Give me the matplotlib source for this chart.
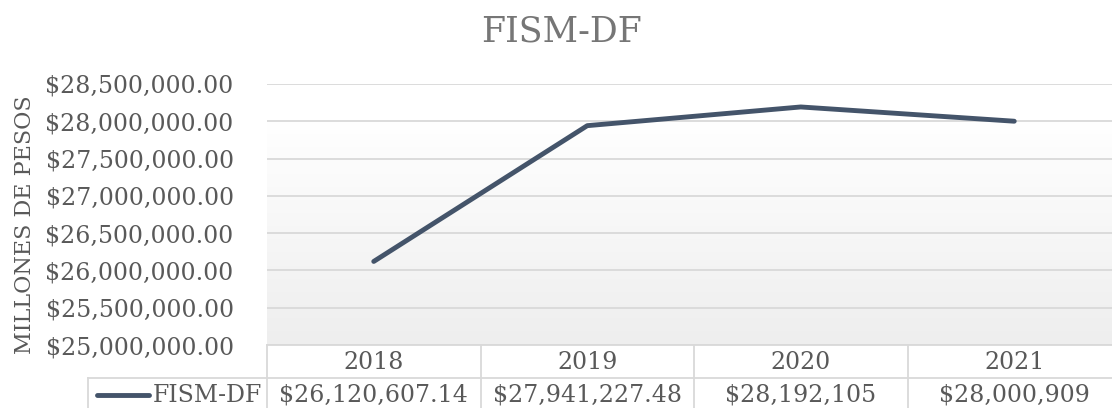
"""
FISM-DF line chart with a data table underneath (Excel style).
"""

import numpy as np
import matplotlib
matplotlib.use("Agg")
import matplotlib.pyplot as plt
from matplotlib.lines import Line2D
from matplotlib.colors import LinearSegmentedColormap
from matplotlib.ticker import FuncFormatter

# ---------------------------------------------------------
# Data
# ---------------------------------------------------------
years = ["2018", "2019", "2020", "2021"]
values = [26120607.14, 27941227.48, 28192105, 28000909]
value_labels = ["$26,120,607.14", "$27,941,227.48", "$28,192,105", "$28,000,909"]
series_name = "FISM-DF"
y_ticks = [25000000, 25500000, 26000000, 26500000, 27000000, 27500000, 28000000, 28500000]

# ---------------------------------------------------------
# Style
# ---------------------------------------------------------
W, H = 1112, 408
LINE_COLOR = "#44546A"
GRID_COLOR = "#D9D9D9"
TEXT_COLOR = "#595959"
FS = 17

plt.rcParams["font.family"] = ["DejaVu Serif"]


def fx(x):
    return x / W


def fy(y):
    return 1 - y / H


fig = plt.figure(figsize=(W / 100, H / 100), dpi=100)

# plot area in pixel coords
left, right, top, bottom = 267, 1121, 84, 345
ax = fig.add_axes([fx(left), fy(bottom), fx(right - left), (bottom - top) / H])
ax.set_xlim(0, len(years))
ax.set_ylim(y_ticks[0], y_ticks[-1])

# gradient background (white on top, light grey at the bottom)
grad = np.linspace(0, 1, 256).reshape(-1, 1)
cmap = LinearSegmentedColormap.from_list(
    "bg", [(0, "#FFFFFF"), (0.14, "#FFFFFF"), (1, "#EEEEEE")])
ax.imshow(grad, cmap=cmap, extent=[0, len(years), y_ticks[0], y_ticks[-1]],
          aspect="auto", origin="upper", zorder=0)

for t in y_ticks:
    ax.axhline(t, color=GRID_COLOR, lw=1.3, zorder=1)

xs = np.arange(len(years)) + 0.5
ax.plot(xs, values, color=LINE_COLOR, lw=3.5, solid_capstyle="round",
        solid_joinstyle="round", zorder=3)

for s in ax.spines.values():
    s.set_visible(False)
ax.set_xticks([])
ax.set_yticks(y_ticks)
ax.yaxis.set_major_formatter(FuncFormatter(lambda v, p: f"${v:,.2f}"))
ax.tick_params(axis="y", length=0, pad=24, labelsize=FS, labelcolor=TEXT_COLOR)
ax.set_ylabel("MILLONES DE PESOS", fontsize=16, color=TEXT_COLOR)
ax.yaxis.set_label_coords((36 - left) / (right - left), 0.46)

fig.text(0.505, fy(31), series_name, ha="center", va="center",
         fontsize=25, color="#767676")

# ---------------------------------------------------------
# Data table
# ---------------------------------------------------------
col_w = (right - left) / len(years)
row1_top, row2_top, row2_bot = 345, 378, 408
legend_left = 88


def hline(x0, x1, y):
    fig.add_artist(Line2D([fx(x0), fx(x1)], [fy(y), fy(y)], color=GRID_COLOR, lw=1.3))


def vline(x, y0, y1):
    fig.add_artist(Line2D([fx(x), fx(x)], [fy(y0), fy(y1)], color=GRID_COLOR, lw=1.3))


hline(left, W, row1_top)
hline(legend_left, W, row2_top)
vline(legend_left, row2_top, row2_bot)
for i in range(len(years) + 1):
    vline(left + i * col_w, row1_top, row2_bot)

for i, (yr, lab) in enumerate(zip(years, value_labels)):
    cx = left + (i + 0.5) * col_w
    fig.text(fx(cx), fy((row1_top + row2_top) / 2 + 1), yr, ha="center",
             va="center", fontsize=FS, color=TEXT_COLOR)
    fig.text(fx(cx), fy((row2_top + row2_bot) / 2 + 2), lab, ha="center",
             va="center", fontsize=FS, color=TEXT_COLOR)

# legend key
fig.add_artist(Line2D([fx(97), fx(149)], [fy(395), fy(395)], color=LINE_COLOR,
                      lw=3.5, solid_capstyle="round"))
fig.text(fx(153), fy(395), series_name, ha="left", va="center",
         fontsize=FS, color=TEXT_COLOR)

fig.savefig("out.png", dpi=100)
